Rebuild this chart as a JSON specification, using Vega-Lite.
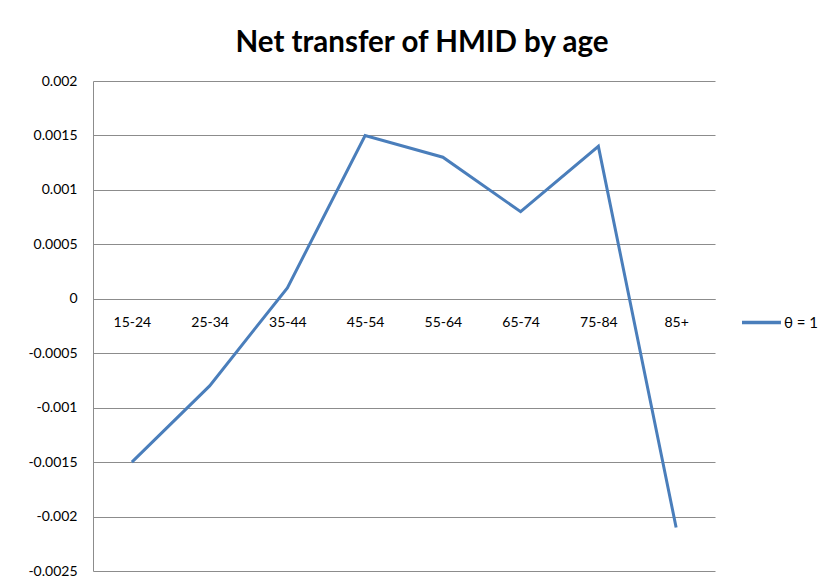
{
  "$schema": "https://vega.github.io/schema/vega-lite/v6.json",
  "autosize": {"type": "none"},
  "width": 622,
  "height": 490,
  "padding": {"left": 93, "top": 81, "right": 106, "bottom": 17},
  "background": "white",
  "title": {
    "text": "Net transfer of HMID by age",
    "font": "Lato",
    "fontSize": 29.5,
    "fontWeight": "bold",
    "color": "#000000",
    "anchor": "middle",
    "dx": 18,
    "offset": 16
  },
  "data": {
    "values": [
      {"age": "15-24", "value": -0.0015, "series": "θ = 1"},
      {"age": "25-34", "value": -0.0008, "series": "θ = 1"},
      {"age": "35-44", "value": 0.0001, "series": "θ = 1"},
      {"age": "45-54", "value": 0.0015, "series": "θ = 1"},
      {"age": "55-64", "value": 0.0013, "series": "θ = 1"},
      {"age": "65-74", "value": 0.0008, "series": "θ = 1"},
      {"age": "75-84", "value": 0.0014, "series": "θ = 1"},
      {"age": "85+", "value": -0.0021, "series": "θ = 1"}
    ]
  },
  "mark": {"type": "line", "strokeWidth": 3, "strokeJoin": "miter"},
  "encoding": {
    "x": {
      "field": "age",
      "type": "ordinal",
      "sort": null,
      "scale": {"paddingOuter": 0.5},
      "axis": {
        "title": null,
        "offset": -272,
        "labelAngle": 0,
        "labelFont": "Lato",
        "labelFontSize": 14,
        "labelColor": "#000000",
        "labelPadding": 16,
        "ticks": false,
        "domainColor": "#8c8c8c",
        "domainWidth": 1,
        "grid": false
      }
    },
    "y": {
      "field": "value",
      "type": "quantitative",
      "scale": {"domain": [-0.0025, 0.002], "nice": false, "zero": false},
      "axis": {
        "title": null,
        "values": [-0.0025, -0.002, -0.0015, -0.001, -0.0005, 0, 0.0005, 0.001, 0.0015, 0.002],
        "labelExpr": "'' + datum.value",
        "labelFont": "Lato",
        "labelFontSize": 14,
        "labelColor": "#000000",
        "labelPadding": 16,
        "ticks": false,
        "domain": true,
        "domainColor": "#8c8c8c",
        "grid": true,
        "gridColor": "#8c8c8c",
        "gridWidth": 1,
        "gridOpacity": 1
      }
    },
    "color": {
      "field": "series",
      "type": "nominal",
      "scale": {"range": ["#4a7ebb"]},
      "legend": {
        "title": null,
        "orient": "none",
        "legendX": 647,
        "legendY": 220,
        "symbolType": "stroke",
        "symbolSize": 1521,
        "symbolStrokeWidth": 3.5,
        "labelFont": "Lato",
        "labelFontSize": 15,
        "labelColor": "#000000",
        "labelOffset": 1
      }
    }
  },
  "config": {
    "view": {"stroke": null}
  }
}
